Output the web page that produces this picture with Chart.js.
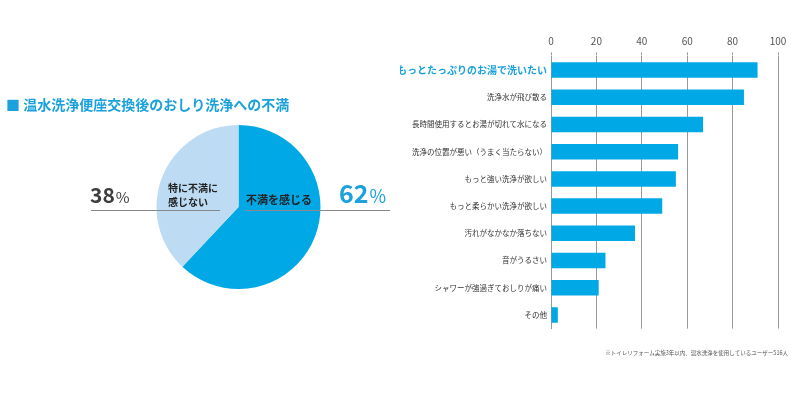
<!DOCTYPE html>
<html>
<head>
<meta charset="utf-8">
<script src="https://cdn.jsdelivr.net/npm/chart.js@4/dist/chart.umd.min.js"></script>
<style>
  html, body { margin: 0; padding: 0; background: #fff; }
  #wrap { position: relative; width: 800px; height: 400px; }
  .box { position: absolute; top: 0; width: 400px; height: 400px; }
</style>
</head>
<body>
<div id="wrap">
  <div class="box" style="left:0"><canvas id="pieChart"></canvas></div>
  <div class="box" style="left:400px"><canvas id="barChart"></canvas></div>
</div>
<script>
// データ
const pieLabels = ['不満を感じる', '特に不満に感じない'];
const pieValues = [62, 38];

const barLabels = [
  'もっとたっぷりのお湯で洗いたい',
  '洗浄水が飛び散る',
  '長時間使用するとお湯が切れて水になる',
  '洗浄の位置が悪い（うまく当たらない）',
  'もっと強い洗浄が欲しい',
  'もっと柔らかい洗浄が欲しい',
  '汚れがなかなか落ちない',
  '音がうるさい',
  'シャワーが強過ぎておしりが痛い',
  'その他'
];
const barValues = [91, 85, 67, 56, 55, 49, 37, 24, 21, 3];
const xTicks = [0, 20, 40, 60, 80, 100];

const titleText = '■ 温水洗浄便座交換後のおしり洗浄への不満';
const footnote = '※トイレリフォーム実施3年以内、温水洗浄を使用しているユーザー516人';

const azul = '#00a8e6';
const azulClaro = '#bddcf4';
const fontJP = "'Noto Sans CJK JP', 'Noto Sans', sans-serif";

// 円グラフの注記
const pieNotes = {
  id: 'pieNotes',
  afterDraw(chart) {
    const c = chart.ctx;
    const arc = chart.getDatasetMeta(0).data[0];
    const cy = arc.y;
    c.save();
    c.textBaseline = 'alphabetic';

    // タイトル
    c.fillStyle = '#1ba1dc';
    c.font = 'bold 14px ' + fontJP;
    c.textAlign = 'left';
    c.fillText(titleText, 6, 110);

    // 線
    c.strokeStyle = '#888';
    c.lineWidth = 1;
    c.beginPath();
    c.moveTo(91, cy + 3.5); c.lineTo(220, cy + 3.5);
    c.moveTo(245, cy + 3.5); c.lineTo(390, cy + 3.5);
    c.stroke();

    // 38%
    c.fillStyle = '#3d3d3d';
    c.font = 'bold 21px ' + fontJP;
    c.fillText('38', 90, cy - 4);
    let w = c.measureText('38').width;
    c.font = '15px ' + fontJP;
    c.fillText('%', 90 + w + 1, cy - 4);

    // 62%
    c.fillStyle = '#1ba1dc';
    c.font = 'bold 25px ' + fontJP;
    c.fillText('62', 339, cy - 4);
    w = c.measureText('62').width;
    c.font = '18px ' + fontJP;
    c.fillText('%', 339 + w + 1, cy - 4);

    // スライス内ラベル
    c.fillStyle = '#222';
    c.font = 'bold 11px ' + fontJP;
    c.fillText('不満を感じる', 246, cy - 3);
    c.font = 'bold 10px ' + fontJP;
    c.fillText('特に不満に', 168, cy - 15);
    c.fillText('感じない', 168, cy - 1);
    c.restore();
  }
};

new Chart(document.getElementById('pieChart'), {
  type: 'pie',
  data: {
    labels: pieLabels,
    datasets: [{
      data: pieValues,
      backgroundColor: [azul, azulClaro],
      borderWidth: 0
    }]
  },
  options: {
    responsive: true,
    maintainAspectRatio: false,
    animation: false,
    layout: { padding: { left: 156.5, right: 79.5, top: 125, bottom: 111 } },
    plugins: { legend: { display: false }, tooltip: { enabled: false } }
  },
  plugins: [pieNotes]
});

// 注釈
const barNote = {
  id: 'barNote',
  afterDraw(chart) {
    const c = chart.ctx;
    c.save();
    c.fillStyle = '#555';
    c.font = '5.5px ' + fontJP;
    c.textAlign = 'right';
    c.textBaseline = 'middle';
    c.fillText(footnote, 388, 353);
    c.restore();
  }
};

new Chart(document.getElementById('barChart'), {
  type: 'bar',
  data: {
    labels: barLabels,
    datasets: [{
      data: barValues,
      backgroundColor: azul,
      borderWidth: 0,
      barPercentage: 0.57,
      categoryPercentage: 1
    }]
  },
  options: {
    indexAxis: 'y',
    responsive: true,
    maintainAspectRatio: false,
    animation: false,
    layout: { padding: { left: 0, right: 22, top: 0, bottom: 71.4 } },
    plugins: { legend: { display: false }, tooltip: { enabled: false } },
    scales: {
      x: {
        position: 'top',
        min: 0,
        max: 100,
        afterBuildTicks: s => { s.ticks = xTicks.map(v => ({ value: v })); },
        afterFit: s => { s.height = 56.4; },
        ticks: { color: '#555', font: { size: 10, family: fontJP }, padding: 5 },
        grid: {
          color: '#999',
          lineWidth: 1,
          tickLength: 4,
          tickColor: '#999',
          borderDash: [3, 3],
          tickBorderDash: [3, 3]
        },
        border: { display: false }
      },
      y: {
        afterFit: s => { s.width = 151; },
        grid: { display: false, drawTicks: false },
        border: { display: true, color: '#999', width: 1 },
        ticks: {
          padding: 4,
          color: ctx => ctx.index === 0 ? '#1ba1dc' : '#333',
          font: ctx => ctx.index === 0
            ? { size: 10, weight: 'bold', family: fontJP }
            : { size: 7.5, family: fontJP }
        }
      }
    }
  },
  plugins: [barNote]
});
</script>
</body>
</html>
